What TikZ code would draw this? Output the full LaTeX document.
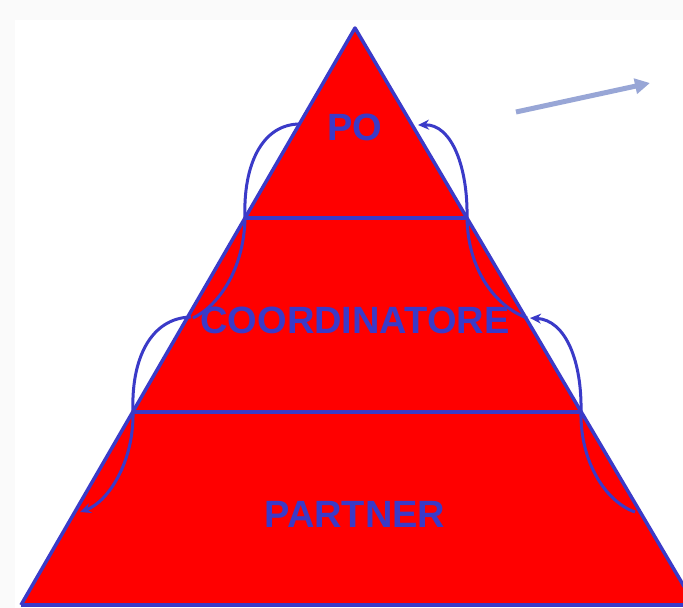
\documentclass[tikz,border=0pt]{standalone}
\usepackage{fontspec}
\setmainfont{Liberation Sans}
\usetikzlibrary{arrows.meta}
\definecolor{pyr}{HTML}{FF0000}
\definecolor{edgeblue}{HTML}{3A3AC8}
\definecolor{pointer}{HTML}{98A6D6}
\tikzset{
  edgeline/.style={draw=edgeblue, line width=3.5pt, line join=round},
  flow/.style={draw=edgeblue, line width=3pt},
  flowhead/.style={flow, -{Stealth[length=11pt,width=10pt]}},
  label/.style={text=edgeblue, font=\fontsize{38}{40}\selectfont\bfseries, anchor=base, inner sep=0pt}
}
\begin{document}
\begin{tikzpicture}[x=1pt,y=-1pt]
\useasboundingbox (0,0) rectangle (683,608);
\fill[gray!4] (0,0) rectangle (683,608);
\fill[white] (15,20) rectangle (683,608);
\coordinate (apex) at (355,28);
\coordinate (bl) at (21,605);
\coordinate (br) at (695,605);
\coordinate (l1) at (245,218);
\coordinate (r1) at (467,218);
\coordinate (l2) at (133,412);
\coordinate (r2) at (581,412);
\coordinate (a1) at (300,124);
\coordinate (b1) at (418,125);
\coordinate (a2) at (191,317);
\coordinate (b2) at (530,318);
\coordinate (c1) at (527,318);
\coordinate (d1) at (193,318);
\coordinate (c2) at (635,512);
\coordinate (d2) at (80,512);
\coordinate (ps) at (516,112);
\coordinate (pe) at (650,83);
\fill[pyr] (apex) -- (bl) -- (br) -- cycle;
\draw[edgeline] (bl) -- (apex) -- (br);
\draw[edgeline] (bl) -- (br);
\draw[edgeline] (l1) -- (r1);
\draw[edgeline] (l2) -- (r2);
% outer arcs
\draw[flow] (l1) .. controls (243,165) and (262,124) .. (a1);
\draw[flowhead] (r1) .. controls (468,168) and (452,124) .. (b1);
\draw[flow] (l2) .. controls (131,360) and (150,318) .. (a2);
\draw[flowhead] (r2) .. controls (582,362) and (566,320) .. (b2);
% inner arcs
\draw[flow] (l1) .. controls (244,270) and (218,306) .. (d1);
\draw[flow] (r1) .. controls (468,270) and (495,306) .. (c1);
\draw[flowhead] (l2) .. controls (134,462) and (108,502) .. (d2);
\draw[flow] (r2) .. controls (580,462) and (606,502) .. (c2);
% labels
\node[label] (po) at (355,140) {PO};
\node[label] (coord) at (355,333) {COORDINATORE};
\node[label] (partner) at (355,527) {PARTNER};
% pointer arrow
\draw[pointer, line width=5pt, -{Triangle[length=15pt,width=15pt]}] (ps) -- (pe);
\end{tikzpicture}
\end{document}
